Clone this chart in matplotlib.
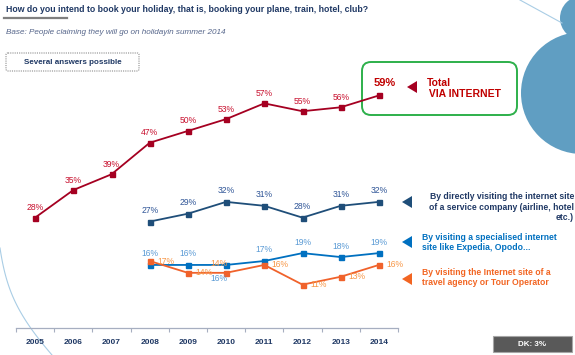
import matplotlib
matplotlib.use("Agg")
import matplotlib.pyplot as plt
from matplotlib.patches import FancyBboxPatch, Polygon, Circle
import numpy as np

plt.rcParams['font.family'] = ['Liberation Sans', 'DejaVu Sans']

years = [2005, 2006, 2007, 2008, 2009, 2010, 2011, 2012, 2013, 2014]
total_internet = [28, 35, 39, 47, 50, 53, 57, 55, 56, 59]
sub_years = [2008, 2009, 2010, 2011, 2012, 2013, 2014]
service_company = [27, 29, 32, 31, 28, 31, 32]
specialised_site = [16, 16, 16, 17, 19, 18, 19]
travel_agency = [17, 14, 14, 16, 11, 13, 16]

W, H = 575, 355
fig = plt.figure(figsize=(W / 100, H / 100), dpi=100)

# background / decoration layer in pixel coordinates
bg = fig.add_axes([0, 0, 1, 1], zorder=0)
bg.set_xlim(0, W)
bg.set_ylim(H, 0)
bg.axis('off')

shape_col = '#609EC2'
bg.add_patch(Circle((582, 93), 61, color=shape_col, lw=0))
bg.add_patch(Circle((582, 18), 22, color=shape_col, lw=0))
bg.plot([520, 562], [0, 23], color='#A9CDE5', lw=0.8)
cx = np.array([0, 13, 30, 52])
cy = np.array([248, 297, 327, 355])
tt = np.linspace(0, 1, 50)
coef_x = np.polyfit([0, 0.45, 0.75, 1], cx, 3)
coef_y = np.polyfit([0, 0.45, 0.75, 1], cy, 3)
bg.plot(np.polyval(coef_x, tt), np.polyval(coef_y, tt), color='#A9CDE5', lw=0.8)

navy = '#1F3864'
bg.text(6, 9, "How do you intend to book your holiday, that is, booking your plane, train, hotel, club?",
        fontsize=6.33, fontweight='bold', color=navy, ha='left', va='center')
bg.plot([4, 67], [17.5, 17.5], color='#7F7F7F', lw=1.6)
bg.text(6, 32, "Base: People claiming they will go on holidayin summer 2014",
        fontsize=5.85, style='italic', color='#55658A', ha='left', va='center')
bg.add_patch(FancyBboxPatch((6, 53), 133, 18, boxstyle='round,pad=0,rounding_size=2',
                            fc='white', ec='#8C8C8C', lw=0.8, ls=(0, (1, 1))))
bg.text(72.5, 62, "Several answers possible", fontsize=5.8, fontweight='bold',
        color=navy, ha='center', va='center')

# green box
bg.add_patch(FancyBboxPatch((362, 62), 155, 53, boxstyle='round,pad=0,rounding_size=9',
                            fc='none', ec='#2DB04B', lw=1.4, zorder=3))
red_dark = '#A50021'
red_lab = '#C00000'
bg.add_patch(Polygon([[407, 87], [417, 81], [417, 93]], closed=True, fc=red_dark, ec='none'))
bg.text(427, 83, "Total", fontsize=7.5, fontweight='bold', color=red_lab, ha='left', va='center')
bg.text(426, 94, " VIA INTERNET", fontsize=7.5, fontweight='bold', color=red_lab, ha='left', va='center')

# legend-like annotations
c_dark = '#1F4E79'
c_light = '#0070C0'
c_orange = '#F26522'
bg.add_patch(Polygon([[402, 202], [412, 196], [412, 208]], closed=True, fc=c_dark, ec='none'))
bg.text(574, 207, "By directly visiting the internet site\nof a service company (airline, hotel\netc.)",
        fontsize=6.2, fontweight='bold', color=navy, ha='right', va='center',
        multialignment='right', linespacing=1.2)
bg.add_patch(Polygon([[402, 242], [412, 236], [412, 248]], closed=True, fc=c_light, ec='none'))
bg.text(422, 242.5, "By visiting a specialised internet\nsite like Expedia, Opodo...",
        fontsize=6.2, fontweight='bold', color=c_light, ha='left', va='center', linespacing=1.2)
bg.add_patch(Polygon([[402, 279], [412, 273], [412, 285]], closed=True, fc=c_orange, ec='none'))
bg.text(422, 277.5, "By visiting the Internet site of a\ntravel agency or Tour Operator",
        fontsize=6.2, fontweight='bold', color=c_orange, ha='left', va='center', linespacing=1.2)

# DK box
bg.add_patch(FancyBboxPatch((493, 336), 79, 16, boxstyle='square,pad=0',
                            fc='#595959', ec='#A6A6A6', lw=0.8))
bg.text(532.5, 344, "DK: 3%", fontsize=5.8, fontweight='bold', color='white', ha='center', va='center')

# chart axes
x0, x1 = 16, 398
ybot, ytop = 328, 60
ax = fig.add_axes([x0 / W, (H - ybot) / H, (x1 - x0) / W, (ybot - ytop) / H], zorder=1)
ax.set_facecolor('none')
ax.set_xlim(2004.5, 2014.5)
ax.set_ylim(0, 68)
for s in ['top', 'right', 'left']:
    ax.spines[s].set_visible(False)
ax.spines['bottom'].set_color('#A6AEC0')
ax.spines['bottom'].set_linewidth(0.9)
ax.set_yticks([])
ax.set_xticks(years)
ax.set_xticklabels([str(y) for y in years], fontsize=6, fontweight='bold', color=navy)
ax.set_xticks(np.arange(2004.5, 2015, 1), minor=True)
ax.tick_params(axis='x', which='major', length=0, pad=8)
ax.tick_params(axis='x', which='minor', length=3, color='#A6AEC0', width=0.8)

ms = 3.6
ax.plot(years, total_internet, color=red_dark, lw=1.3, marker='s', ms=ms, clip_on=False)
ax.plot(sub_years, service_company, color=c_dark, lw=1.3, marker='s', ms=ms, clip_on=False)
ax.plot(sub_years, specialised_site, color=c_light, lw=1.3, marker='s', ms=ms, clip_on=False)
ax.plot(sub_years, travel_agency, color='#F0622B', lw=1.3, marker='s', ms=ms, clip_on=False)

def lab(x, y, txt, dx, dy, col, **kw):
    ax.annotate(txt, (x, y), xytext=(dx, dy), textcoords='offset pixels',
                ha='center', va='center', color=col, fontsize=kw.pop('fs', 6.2), **kw)

for i, (x, v) in enumerate(zip(years, total_internet)):
    if i == len(years) - 1:
        lab(x, v, f"{v}%", 6, 12, red_lab, fs=8, fontweight='bold')
    else:
        lab(x, v, f"{v}%", 0, 10, '#C8102E')
for x, v in zip(sub_years, service_company):
    lab(x, v, f"{v}%", 0, 11, '#2F5597')
for x, v in zip(sub_years, specialised_site):
    if x == 2010:
        lab(x, v, f"{v}%", -7, -14, '#5B9BD5')
    else:
        lab(x, v, f"{v}%", 0, 11, '#5B9BD5')
for x, v in zip(sub_years, travel_agency):
    if x == 2010:
        lab(x, v, f"{v}%", -7, 9, '#F79646')
    else:
        lab(x, v, f"{v}%", 16, 0, '#F79646')

fig.savefig('out.png', dpi=100)
